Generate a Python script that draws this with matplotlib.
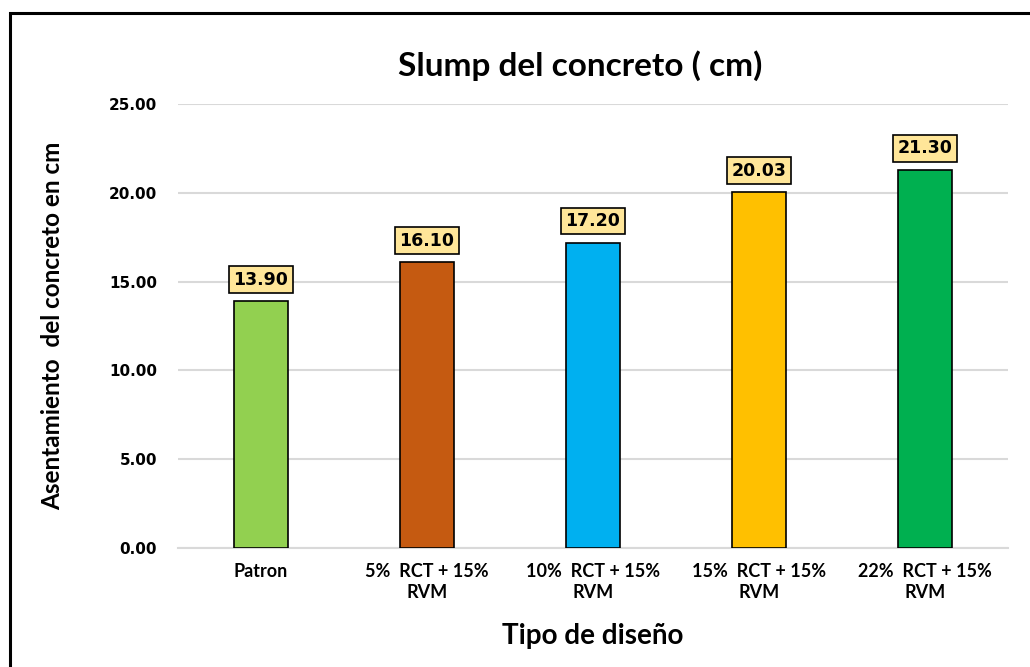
import matplotlib.pyplot as plt
from matplotlib.patches import Rectangle

# slump per mix design
designs = ['Patron', '5%  RCT + 15%\nRVM', '10%  RCT + 15%\nRVM',
           '15%  RCT + 15%\nRVM', '22%  RCT + 15%\nRVM']
slump = [13.90, 16.10, 17.20, 20.03, 21.30]
colors = ['#92D050', '#C55A11', '#00B0F0', '#FFC000', '#00B050']
yticks = [0, 5, 10, 15, 20, 25]

fig = plt.figure(figsize=(10.3, 6.67), dpi=100)
ax = fig.add_axes([0.1728, 0.1784, 0.8058, 0.6657])

x = range(len(designs))
bars = ax.bar(x, slump, width=0.325, color=colors, edgecolor='black', linewidth=1.2, zorder=3)

for b, v in zip(bars, slump):
    ax.annotate('{:.2f}'.format(v), (b.get_x() + b.get_width() / 2, v),
                xytext=(0, 9), textcoords='offset points', ha='center', va='bottom',
                fontsize=12.5, fontweight='bold', family='DejaVu Sans', zorder=4,
                bbox=dict(boxstyle='square,pad=0.25', fc='#FFE699', ec='black', lw=1.2))

ax.set_xlim(-0.5, len(designs) - 0.5)
ax.set_ylim(0, 25)
ax.set_yticks(yticks)
ax.set_yticklabels(['{:.2f}'.format(t) for t in yticks], fontsize=11, fontweight='bold',
                   family='DejaVu Sans')
ax.set_xticks(list(x))
ax.set_xticklabels(designs, fontsize=13, fontweight='bold', family='Lato', linespacing=1.25)
ax.tick_params(axis='both', length=0)
ax.tick_params(axis='y', pad=15)
ax.tick_params(axis='x', pad=11)
ax.grid(axis='y', color='#D9D9D9', linewidth=1.5, zorder=0)
for s in ['top', 'right', 'left']:
    ax.spines[s].set_visible(False)
ax.spines['bottom'].set_color('#D9D9D9')
ax.spines['bottom'].set_linewidth(1.5)

ax.set_title('Slump del concreto ( cm)', fontsize=24, fontweight='bold', family='Lato',
             pad=20, x=0.485)
ax.set_xlabel('Tipo de diseño', fontsize=20, fontweight='bold', family='Lato', labelpad=16)
ax.set_ylabel('Asentamiento  del concreto en cm', fontsize=17.5, fontweight='bold',
              family='Lato', labelpad=32)

# frame around the whole figure
fig.patches.append(Rectangle((0.0098, -0.05), 1.1, 1.03, transform=fig.transFigure,
                             fill=False, ec='black', lw=2.2))

fig.savefig('out.png', dpi=100)
